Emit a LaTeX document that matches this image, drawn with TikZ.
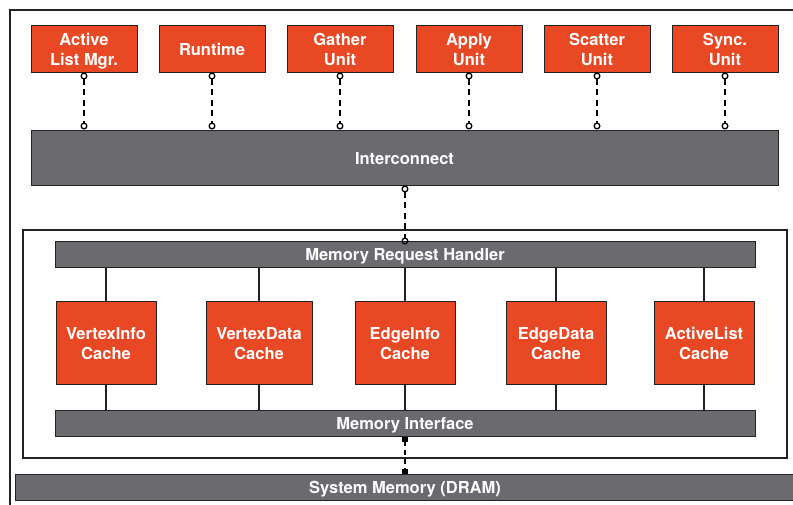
\documentclass[tikz,border=0pt]{standalone}
\usepackage{fontspec}
\setmainfont{TeX Gyre Heros}
\usetikzlibrary{arrows.meta}
\definecolor{unitorange}{HTML}{E84824}
\definecolor{bargray}{HTML}{6A6A6F}
\definecolor{edgedark}{HTML}{222222}
\begin{document}
\begin{tikzpicture}[x=1pt,y=-1pt,
  lbl/.style={font=\fontsize{16.5}{20}\selectfont\bfseries, text=white, align=center, inner sep=0pt, text depth=0pt, text height=13pt},
  twoline/.style={text height=33pt, text depth=0pt},
  unitbox/.style={lbl, rectangle, draw=edgedark, line width=1pt, fill=unitorange, minimum width=106pt, minimum height=47pt},
  cachebox/.style={lbl, twoline, rectangle, draw=edgedark, line width=1pt, fill=unitorange, minimum width=100pt, minimum height=83pt},
  barbox/.style={lbl, rectangle, draw=edgedark, line width=1pt, fill=bargray},
  dashlink/.style={line width=1.6pt, dash pattern=on 6pt off 4.5pt, {Circle[open,length=7pt,width=7pt,line width=1.3pt]}-{Circle[open,length=7pt,width=7pt,line width=1.3pt]}},
  memlink/.style={line width=1.5pt, dash pattern=on 5pt off 4pt, {Square[length=5pt,width=5.5pt]}-{Square[length=5pt,width=5.5pt]}},
  cachelink/.style={line width=1.1pt, draw=edgedark},
  frame/.style={line width=1.4pt, draw=edgedark}]
\useasboundingbox (0,0) rectangle (793,504);
\clip (0,0) rectangle (793,504);
\fill[white] (0,0) rectangle (793,504);
% frames
\draw[frame] (10,10) rectangle (800,512);
\draw[frame] (23,230) rectangle (787,458);
% top units
\node[unitbox, twoline] (alm) at (84,48.5) {Active\\List Mgr.};
\node[unitbox] (rt) at (212,48.5) {Runtime};
\node[unitbox, twoline] (gu) at (340,48.5) {Gather\\Unit};
\node[unitbox, twoline] (au) at (469,48.5) {Apply\\Unit};
\node[unitbox, twoline] (su) at (597,48.5) {Scatter\\Unit};
\node[unitbox, twoline] (syu) at (725,48.5) {Sync.\\Unit};
% interconnect
\node[barbox, minimum width=747pt, minimum height=55pt] (ic) at (404.5,157.5) {Interconnect};
% memory subsystem
\node[barbox, minimum width=700pt, minimum height=26pt] (mrh) at (405,254) {Memory Request Handler};
\node[barbox, minimum width=700pt, minimum height=26pt] (mi) at (405,423) {Memory Interface};
\node[barbox, minimum width=780pt, minimum height=26pt] (sm) at (405,487) {System Memory (DRAM)};
% caches
\node[cachebox] (vic) at (106,342.5) {VertexInfo\\Cache};
\node[cachebox, minimum width=106pt] (vdc) at (259,342.5) {VertexData\\Cache};
\node[cachebox] (eic) at (405,342.5) {EdgeInfo\\Cache};
\node[cachebox] (edc) at (556,342.5) {EdgeData\\Cache};
\node[cachebox] (alc) at (704,342.5) {ActiveList\\Cache};
% unit to interconnect links
\foreach \u in {alm,rt,gu,au,su,syu}
  \draw[dashlink] (\u.south) -- (\u.south |- ic.north);
% interconnect to memory request handler
\draw[dashlink] (ic.south -| mrh.north) -- ([yshift=-4pt]mrh.north);
% cache links
\foreach \c in {vic,vdc,eic,edc,alc}{
  \draw[cachelink] (\c.north |- mrh.south) -- (\c.north);
  \draw[cachelink] (\c.south) -- (\c.south |- mi.north);
}
% memory interface to system memory
\draw[memlink] (mi.south) -- (sm.north);
\end{tikzpicture}
\end{document}
